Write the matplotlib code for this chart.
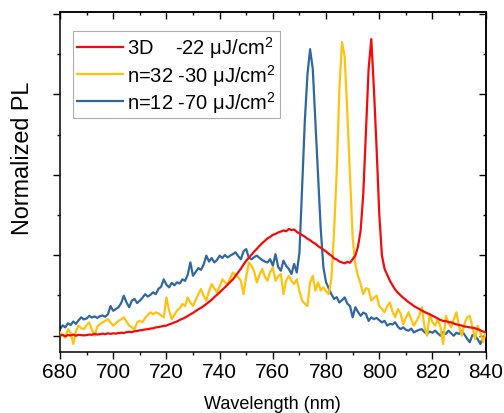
import numpy as np
import matplotlib
matplotlib.use("Agg")
import matplotlib.pyplot as plt
from matplotlib.ticker import MultipleLocator

plt.rcParams["font.family"] = ["Liberation Sans", "DejaVu Sans"]
plt.rcParams["mathtext.fontset"] = "custom"
plt.rcParams["mathtext.rm"] = "Liberation Sans"
plt.rcParams["mathtext.it"] = "Liberation Sans:italic"
plt.rcParams["mathtext.bf"] = "Liberation Sans:bold"

# wavelength grid (nm), 1 nm steps from 680 to 840
wavelength = np.arange(680, 841, 1)

# 3D film, 22 uJ/cm2
pl_3d = [
    0.000, 0.003, -0.002, 0.002, 0.001, 0.004, 0.000, 0.003, 0.002, 0.001,
    0.002, 0.004, 0.003, 0.006, 0.004, 0.005, 0.007, 0.005, 0.008, 0.006,
    0.008, 0.007, 0.009, 0.010, 0.009, 0.012, 0.013, 0.012, 0.015, 0.016,
    0.018, 0.019, 0.021, 0.022, 0.024, 0.025, 0.028, 0.029, 0.031, 0.033,
    0.034, 0.038, 0.041, 0.045, 0.048, 0.053, 0.057, 0.061, 0.066, 0.072,
    0.077, 0.083, 0.089, 0.094, 0.100, 0.107, 0.114, 0.121, 0.130, 0.138,
    0.146, 0.155, 0.163, 0.172, 0.181, 0.190, 0.202, 0.214, 0.226, 0.240,
    0.253, 0.263, 0.273, 0.284, 0.293, 0.303, 0.312, 0.320, 0.328, 0.333,
    0.340, 0.343, 0.348, 0.351, 0.355, 0.352, 0.360, 0.356, 0.358, 0.350,
    0.345, 0.339, 0.334, 0.327, 0.322, 0.315, 0.310, 0.302, 0.296, 0.290,
    0.284, 0.276, 0.270, 0.261, 0.257, 0.250, 0.247, 0.244, 0.249, 0.246,
    0.258, 0.270, 0.300, 0.355, 0.480, 0.690, 0.900, 1.000, 0.830, 0.630,
    0.410, 0.270, 0.225, 0.205, 0.185, 0.170, 0.155, 0.145, 0.136, 0.128,
    0.121, 0.113, 0.107, 0.100, 0.095, 0.090, 0.085, 0.080, 0.076, 0.072,
    0.067, 0.063, 0.058, 0.053, 0.050, 0.049, 0.046, 0.045, 0.041, 0.038,
    0.036, 0.034, 0.031, 0.030, 0.028, 0.027, 0.025, 0.022, 0.018, 0.014,
    0.012,
]

# n=32 film, 30 uJ/cm2
pl_n32 = [
    0.011, 0.000, -0.006, 0.022, 0.010, -0.028, 0.015, 0.034, 0.025, 0.022,
    0.035, 0.045, 0.020, 0.000, 0.030, 0.039, 0.045, 0.050, 0.056, 0.045,
    0.034, 0.042, 0.050, 0.055, 0.062, 0.048, 0.034, 0.028, 0.022, 0.045,
    0.050, 0.045, 0.060, 0.070, 0.079, 0.072, 0.079, 0.075, 0.068, 0.062,
    0.129, 0.085, 0.056, 0.070, 0.085, 0.092, 0.107, 0.100, 0.129, 0.112,
    0.100, 0.120, 0.140, 0.157, 0.135, 0.118, 0.150, 0.174, 0.160, 0.146,
    0.165, 0.190, 0.180, 0.174, 0.195, 0.213, 0.205, 0.197, 0.185, 0.140,
    0.200, 0.247, 0.236, 0.215, 0.180, 0.205, 0.225, 0.200, 0.185, 0.215,
    0.230, 0.185, 0.200, 0.208, 0.140, 0.185, 0.202, 0.185, 0.174, 0.190,
    0.150, 0.118, 0.108, 0.100, 0.180, 0.202, 0.152, 0.180, 0.152, 0.163,
    0.150, 0.140, 0.190, 0.350, 0.550, 0.830, 0.990, 0.940, 0.750, 0.540,
    0.330, 0.240, 0.202, 0.174, 0.140, 0.160, 0.157, 0.118, 0.128, 0.135,
    0.100, 0.090, 0.079, 0.100, 0.112, 0.080, 0.062, 0.090, 0.075, 0.039,
    0.060, 0.079, 0.055, 0.034, 0.050, 0.067, 0.096, 0.030, 0.000, 0.073,
    0.045, 0.034, 0.056, 0.030, -0.028, 0.067, 0.045, 0.028, 0.055, 0.079,
    0.030, 0.000, 0.040, 0.062, 0.067, 0.030, -0.011, 0.034, 0.010, -0.022,
    0.011,
]

# n=12 film, 70 uJ/cm2
pl_n12 = [
    0.022, 0.035, 0.028, 0.042, 0.036, 0.048, 0.040, 0.052, 0.062, 0.055,
    0.058, 0.067, 0.061, 0.065, 0.060, 0.066, 0.068, 0.064, 0.072, 0.100,
    0.084, 0.090, 0.096, 0.110, 0.135, 0.112, 0.096, 0.118, 0.124, 0.110,
    0.118, 0.128, 0.140, 0.132, 0.138, 0.146, 0.140, 0.158, 0.165, 0.190,
    0.172, 0.163, 0.178, 0.170, 0.180, 0.176, 0.190, 0.185, 0.205, 0.247,
    0.202, 0.215, 0.228, 0.222, 0.240, 0.270, 0.250, 0.262, 0.247, 0.255,
    0.270, 0.262, 0.272, 0.264, 0.270, 0.275, 0.281, 0.268, 0.258, 0.285,
    0.292, 0.262, 0.258, 0.265, 0.270, 0.262, 0.255, 0.250, 0.247, 0.258,
    0.236, 0.275, 0.232, 0.219, 0.253, 0.236, 0.225, 0.208, 0.242, 0.213,
    0.280, 0.500, 0.720, 0.880, 0.966, 0.900, 0.720, 0.540, 0.360, 0.230,
    0.180, 0.160, 0.140, 0.124, 0.130, 0.112, 0.120, 0.129, 0.108, 0.100,
    0.062, 0.096, 0.080, 0.067, 0.078, 0.073, 0.050, 0.062, 0.056, 0.060,
    0.052, 0.045, 0.050, 0.034, 0.040, 0.038, 0.045, 0.030, 0.022, 0.028,
    0.020, 0.017, 0.024, 0.011, 0.016, 0.020, 0.022, 0.012, 0.006, 0.014,
    0.010, 0.017, 0.008, 0.000, 0.012, 0.006, 0.017, 0.008, 0.000, 0.010,
    0.006, 0.017, 0.004, -0.010, -0.022, 0.002, 0.000, -0.012, -0.028, -0.005,
    0.000,
]

labels = [
    "3D    -22 \u03bcJ/cm$^{2}$",
    "n=32 -30 \u03bcJ/cm$^{2}$",
    "n=12 -70 \u03bcJ/cm$^{2}$",
]
colors = ["#f50a0a", "#ffc20e", "#2f67a0"]

fig = plt.figure(figsize=(5.04, 4.14), dpi=100)
ax = fig.add_axes([0.119, 0.1473, 0.8447, 0.8225])

h_n12, = ax.plot(wavelength, pl_n12, color=colors[2], lw=1.6, zorder=2)
h_n32, = ax.plot(wavelength, pl_n32, color=colors[1], lw=1.6, zorder=3)
h_3d, = ax.plot(wavelength, pl_3d, color=colors[0], lw=1.6, zorder=4)

ax.set_xlim(680, 840)
ax.set_ylim(-0.055, 1.093)

ytick_step = 0.2713
ax.xaxis.set_major_locator(MultipleLocator(20))
ax.xaxis.set_minor_locator(MultipleLocator(10))
ax.yaxis.set_major_locator(MultipleLocator(ytick_step))
ax.yaxis.set_minor_locator(MultipleLocator(ytick_step / 2))

for s in ax.spines.values():
    s.set_linewidth(1.1)

ax.tick_params(which="both", direction="out", width=1.0, labelsize=15)
ax.tick_params(which="major", length=5)
ax.tick_params(which="minor", length=2.5)
ax.tick_params(axis="x", pad=2)
ax.tick_params(axis="y", labelleft=False)

# mirrored ticks pointing inward on top and right
top = ax.secondary_xaxis("top")
top.xaxis.set_major_locator(MultipleLocator(20))
top.xaxis.set_minor_locator(MultipleLocator(10))
top.tick_params(which="both", direction="in", width=1.0, labeltop=False)
top.tick_params(which="major", length=5)
top.tick_params(which="minor", length=2.5)
top.spines["top"].set_linewidth(1.1)

right = ax.secondary_yaxis("right")
right.yaxis.set_major_locator(MultipleLocator(ytick_step))
right.yaxis.set_minor_locator(MultipleLocator(ytick_step / 2))
right.tick_params(which="both", direction="in", width=1.0, labelright=False)
right.tick_params(which="major", length=5)
right.tick_params(which="minor", length=2.5)
right.spines["right"].set_linewidth(1.1)

ax.set_xlabel("Wavelength (nm)", fontsize=13, labelpad=10.5)
ax.set_ylabel("Normalized PL", fontsize=16.8)
ax.yaxis.set_label_coords(-0.062, 0.572)

leg = ax.legend(
    [h_3d, h_n32, h_n12], labels,
    loc="upper left", bbox_to_anchor=(0.0305, 0.943), borderaxespad=0,
    fontsize=14.5, handlelength=2.3, handletextpad=0.2, borderpad=0.18,
    labelspacing=0.06, fancybox=False, frameon=True,
)
leg.get_frame().set_edgecolor("#9a9a9a")
leg.get_frame().set_linewidth(0.8)
for line in leg.get_lines():
    line.set_linewidth(1.6)

fig.savefig("out.png", dpi=100)
